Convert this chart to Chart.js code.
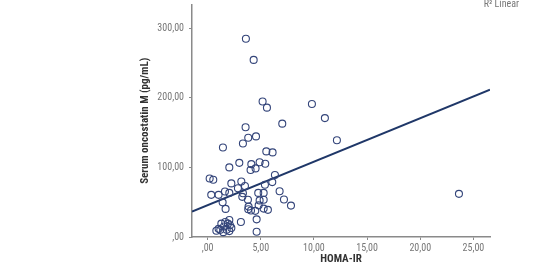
<!DOCTYPE html>
<html>
<head>
<meta charset="utf-8">
<script src="https://cdn.jsdelivr.net/npm/chart.js@4"></script>
<style>
  html, body { margin: 0; padding: 0; background: #fff; }
  #wrap { width: 549px; height: 262px; }
</style>
</head>
<body>
<div id="wrap"><canvas id="scatterChart" width="549" height="262"></canvas></div>
<script>
// values
const homaIr = [3.6, 4.33, 5.17, 5.58, 9.81, 11.03, 7.02, 3.57, 3.82, 4.55, 12.16, 1.44, 3.32, 5.52, 6.11,
    2.98, 2.04, 4.11, 4.89, 5.42, 4.04, 4.51, 0.19, 0.53, 6.33, 2.23, 3.17, 3.51, 6.08, 5.39, 2.85,
    0.34, 1.03, 1.63, 2.04, 3.32, 3.26, 4.76, 5.27, 6.77, 3.79, 4.89, 5.27, 7.18, 1.41, 3.85, 4.80,
    7.84, 1.69, 3.82, 4.08, 4.48, 5.27, 5.67, 23.64, 3.13, 4.61, 4.61, 0.82, 1.03, 1.29, 1.54, 1.66,
    2.04, 1.91, 2.23, 1.47, 1.79, 2.04, 1.19, 2.10];
const oncostatinM = [285, 254.5, 194.8, 185.9, 191.1, 170.9, 162.9, 157.7, 142.7, 144.6, 139.0, 128.6, 134.3, 123.0, 121.6,
    106.6, 100, 104.7, 107.5, 105.2, 96.2, 98.6, 84.0, 82.2, 89.2, 77.0, 79.8, 73.2, 78.9, 75.1, 70.0,
    60.6, 60.6, 65.3, 63.4, 62.9, 57.7, 63.4, 63.4, 65.7, 53.5, 52.6, 53.5, 54.0, 49.8, 43.7, 45.5,
    45.1, 40.4, 39.9, 38.0, 37.6, 40.8, 39.0, 62.0, 21.6, 25.4, 7.5, 8.9, 11.7, 19.2, 15.0, 21.6,
    24.4, 19.2, 13.1, 7.0, 10.3, 8.5, 10.3, 16.9];

// fit line end points (R2 Linear)
const fitX = [-1.47, 26.56];
const fitY = [36.6, 211.7];

const xTicks = [0, 5, 10, 15, 20, 25];
const yTicks = [0, 100, 200, 300];

const FONT = "'Roboto Condensed', 'Liberation Sans', Arial, sans-serif";

function fmt(v) {
    // SPSS style: comma decimal, no leading zero
    let s = v.toFixed(2).replace('.', ',');
    if (s.startsWith('0,')) s = s.substring(1);
    return s;
}

const rLabel = {
    id: 'rLabel',
    afterDraw(chart) {
        const ctx = chart.ctx;
        ctx.save();
        ctx.font = '10px ' + FONT;
        ctx.fillStyle = '#777';
        ctx.textAlign = 'right';
        ctx.textBaseline = 'middle';
        ctx.fillText('R\u00B2 Linear', 519, 4);
        ctx.restore();
    }
};

const ctx = document.getElementById('scatterChart').getContext('2d');
new Chart(ctx, {
    type: 'scatter',
    data: {
        datasets: [{
            label: 'Serum oncostatin M',
            data: homaIr.map((x, i) => ({ x: x, y: oncostatinM[i] })),
            pointRadius: 3.5,
            pointBorderWidth: 1.1,
            borderColor: '#34457a',
            backgroundColor: 'rgba(255,255,255,0)',
            pointHoverRadius: 3.5
        }, {
            type: 'line',
            label: 'Linear',
            data: fitX.map((x, i) => ({ x: x, y: fitY[i] })),
            borderColor: '#1f3768',
            borderWidth: 2,
            pointRadius: 0,
            fill: false
        }]
    },
    options: {
        responsive: false,
        animation: false,
        layout: { padding: { left: 138, right: 59, top: 0, bottom: 0 } },
        plugins: {
            legend: { display: false },
            tooltip: { enabled: false }
        },
        scales: {
            x: {
                type: 'linear',
                min: -1.47,
                max: 26.56,
                afterFit: function(scale) {
                    scale.height = 25;
                    scale.paddingLeft = 0;
                    scale.paddingRight = 0;
                },
                afterBuildTicks: function(scale) { scale.ticks = xTicks.map(v => ({ value: v })); },
                grid: { drawOnChartArea: false, drawTicks: true, tickLength: 3, color: '#8a8a8a' },
                border: { color: '#8a8a8a', width: 1.5 },
                ticks: {
                    padding: 2,
                    color: '#777',
                    font: { family: FONT, size: 10 },
                    callback: function(value) { return fmt(value); }
                },
                title: {
                    display: true,
                    text: 'HOMA-IR',
                    color: '#333',
                    font: { family: FONT, size: 11, weight: 'bold', lineHeight: 1 },
                    padding: { top: 0, bottom: -3 }
                }
            },
            y: {
                min: 0,
                max: 334,
                afterFit: function(scale) {
                    scale.width = 54;
                    scale.paddingTop = 0;
                    scale.paddingBottom = 0;
                },
                afterBuildTicks: function(scale) { scale.ticks = yTicks.map(v => ({ value: v })); },
                grid: { drawOnChartArea: false, drawTicks: true, tickLength: 3, color: '#8a8a8a' },
                border: { color: '#8a8a8a', width: 1.5 },
                ticks: {
                    padding: 5,
                    color: '#777',
                    font: { family: FONT, size: 10 },
                    callback: function(value) { return fmt(value); }
                },
                title: {
                    display: true,
                    text: 'Serum oncostatin M (pg/mL)',
                    color: '#333',
                    font: { family: FONT, size: 11, weight: 'bold', lineHeight: 1 },
                    padding: { top: 2, bottom: 0 }
                }
            }
        }
    },
    plugins: [rLabel]
});
</script>
</body>
</html>
